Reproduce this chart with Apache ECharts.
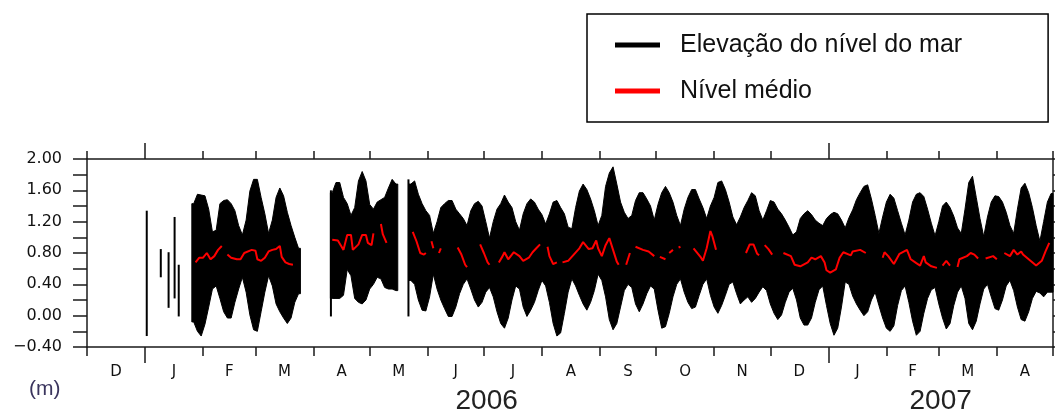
<!DOCTYPE html>
<html><head><meta charset="utf-8">
<script src="https://cdn.jsdelivr.net/npm/echarts@6/dist/echarts.min.js"></script>
<style>html,body{margin:0;padding:0;background:#fff}#c{width:1055px;height:415px}</style>
</head><body><div id="c"></div>
<script>
// ---------------- data ----------------
const seaName = 'Elevação do nível do mar';
const meanName = 'Nível médio';

const monthStarts = ['2005-12-01','2006-01-01','2006-02-01','2006-03-01','2006-04-01','2006-05-01','2006-06-01','2006-07-01','2006-08-01','2006-09-01','2006-10-01','2006-11-01','2006-12-01','2007-01-01','2007-02-01','2007-03-01','2007-04-01','2007-05-01'];
const monthLetters = ['D','J','F','M','A','M','J','J','A','S','O','N','D','J','F','M','A'];
const yearStarts = ['2006-01-01','2007-01-01'];
const yearLabels = ['2006','2007'];

// tidal range envelope (high / low of the sea level), one value per 2 days
const seaStepDays = 2;
const seaStartA = '2006-01-26';
const seaHighA = [1.43,1.55,1.54,1.53,1.36,1.07,1.09,1.43,1.47,1.48,1.43,1.34,1.15,1.03,1.22,1.59,1.74,1.74,1.51,1.30,1.05,1.22,1.51,1.63,1.53,1.32,1.15,1.00,0.86];
const seaLowA  = [-0.08,-0.20,-0.26,-0.11,0.11,0.34,0.38,0.22,0.05,-0.03,-0.03,0.17,0.34,0.49,0.30,0.01,-0.18,-0.20,0.05,0.30,0.51,0.38,0.15,0.05,-0.03,-0.10,-0.03,0.17,0.28];
const seaStartB = '2006-04-10';
const seaHighB = [1.57,1.70,1.70,1.51,1.43,1.28,1.38,1.72,1.84,1.72,1.42,1.36,1.45,1.48,1.51,1.63,1.74,1.68];
const seaLowB  = [0.22,0.22,0.22,0.26,0.59,0.51,0.22,0.17,0.15,0.20,0.34,0.40,0.49,0.47,0.36,0.34,0.34,0.32];
const seaStartC = '2006-05-22';
const seaHighC = [
 1.68,1.72,1.55,1.43,1.34,1.28,1.05,1.20,1.38,1.43,
 1.47,1.47,1.36,1.30,1.24,1.15,1.34,1.43,1.46,1.40,
 1.20,0.99,1.20,1.36,1.43,1.54,1.45,1.38,1.20,1.09,
 1.30,1.43,1.49,1.45,1.36,1.29,1.17,1.30,1.45,1.47,
 1.38,1.30,1.13,1.11,1.38,1.59,1.68,1.61,1.49,1.34,
 1.15,1.28,1.65,1.82,1.90,1.68,1.45,1.32,1.24,1.28,
 1.47,1.57,1.57,1.49,1.40,1.22,1.42,1.57,1.65,1.57,
 1.45,1.28,1.15,1.36,1.51,1.61,1.61,1.49,1.38,1.24,
 1.40,1.51,1.70,1.72,1.61,1.45,1.26,1.16,1.26,1.38,
 1.47,1.57,1.53,1.34,1.22,1.34,1.47,1.45,1.36,1.30,
 1.22,1.13,1.03,1.07,1.24,1.30,1.34,1.29,1.22,1.18,
 1.15,1.24,1.29,1.32,1.30,1.22,1.12,1.25,1.35,1.48,
 1.57,1.65,1.67,1.49,1.28,1.05,1.26,1.45,1.55,1.50,
 1.34,1.18,1.03,1.22,1.45,1.55,1.57,1.52,1.36,1.18,
 1.02,1.20,1.40,1.45,1.38,1.27,1.12,1.05,1.36,1.70,
 1.78,1.51,1.24,1.01,1.26,1.45,1.53,1.52,1.45,1.32,
 1.15,1.05,1.36,1.63,1.69,1.57,1.38,1.15,0.95,1.20,
 1.45,1.56];
const seaLowC = [
 0.45,0.40,0.20,0.07,0.06,0.24,0.53,0.34,0.20,0.09,
 -0.01,-0.01,0.11,0.28,0.40,0.47,0.34,0.20,0.11,0.17,
 0.30,0.36,0.24,0.05,-0.10,-0.16,-0.03,0.20,0.38,0.34,
 0.11,-0.01,0.07,0.17,0.32,0.45,0.38,0.17,-0.10,-0.26,
 -0.22,0.03,0.30,0.47,0.38,0.26,0.15,0.07,0.17,0.32,
 0.53,0.45,0.24,-0.05,-0.18,-0.10,0.11,0.32,0.40,0.36,
 0.15,0.05,0.15,0.28,0.38,0.34,0.07,-0.16,-0.14,0.03,
 0.24,0.40,0.47,0.30,0.17,0.09,0.11,0.26,0.40,0.47,
 0.26,0.11,0.03,0.13,0.26,0.40,0.43,0.28,0.15,0.20,
 0.24,0.17,0.22,0.30,0.37,0.32,0.15,0.03,-0.05,0.01,
 0.17,0.30,0.35,0.20,-0.03,-0.12,-0.12,-0.03,0.17,0.33,
 0.38,0.13,-0.10,-0.25,-0.16,0.11,0.43,0.40,0.25,0.15,
 0.07,0.00,0.05,0.20,0.30,0.13,-0.03,-0.16,-0.20,-0.13,
 0.13,0.32,0.38,0.17,-0.07,-0.25,-0.20,0.03,0.22,0.33,
 0.36,0.15,-0.03,-0.17,-0.10,0.13,0.30,0.38,0.22,-0.10,
 -0.18,-0.07,0.15,0.34,0.40,0.24,0.09,0.07,0.20,0.38,
 0.45,0.32,0.11,-0.05,-0.07,0.05,0.22,0.31,0.29,0.24,
 0.30,0.30];

// short isolated records: [time, low, high]
const seaFragments = [
 ['2006-01-01 22:00', -0.26, 1.34],
 ['2006-01-09 10:00', 0.49, 0.85],
 ['2006-01-13 14:00', 0.10, 0.81],
 ['2006-01-16 19:00', 0.22, 1.26],
 ['2006-01-19 00:00', -0.01, 0.65],
 ['2006-04-10 07:00', -0.01, 1.60],
 ['2006-05-21 17:00', -0.01, 1.74]
];

// mean level (null = gap)
const meanLevel = [
 ['2006-01-28',0.68],['2006-01-30',0.74],['2006-02-01',0.74],['2006-02-03',0.80],['2006-02-05',0.72],['2006-02-06',0.72],['2006-02-07',0.76],['2006-02-09',0.84],['2006-02-11',0.89],['2006-02-12',null],
 ['2006-02-14',0.78],['2006-02-16',0.74],['2006-02-19',0.72],['2006-02-21',0.72],['2006-02-23',0.80],['2006-02-27',0.84],['2006-03-01',0.83],['2006-03-02',0.72],['2006-03-04',0.70],['2006-03-06',0.74],['2006-03-08',0.82],['2006-03-10',0.84],['2006-03-12',0.85],['2006-03-14',0.89],['2006-03-15',0.75],['2006-03-17',0.68],['2006-03-19',0.66],['2006-03-21',0.65],['2006-03-22',null],
 ['2006-04-11',0.97],['2006-04-14',0.96],['2006-04-16',0.88],['2006-04-17',0.84],['2006-04-19',1.03],['2006-04-21',1.03],['2006-04-22',0.84],['2006-04-23',0.82],['2006-04-25',0.91],['2006-04-27',1.03],['2006-04-29',1.03],['2006-04-30',0.93],['2006-05-02',0.90],['2006-05-03',1.05],['2006-05-04',null],
 ['2006-05-07',1.17],['2006-05-08',1.04],['2006-05-10',0.93],['2006-05-11',null],
 ['2006-05-24',1.07],['2006-05-26',0.95],['2006-05-28',0.80],['2006-05-30',0.78],['2006-05-31',0.80],['2006-06-01',null],
 ['2006-06-03',0.95],['2006-06-04',0.86],['2006-06-05',null],
 ['2006-06-07',0.80],['2006-06-08',0.86],['2006-06-09',null],
 ['2006-06-17',0.87],['2006-06-19',0.78],['2006-06-21',0.65],['2006-06-22',0.62],['2006-06-23',null],
 ['2006-06-29',0.91],['2006-07-01',0.80],['2006-07-03',0.68],['2006-07-04',0.65],['2006-07-05',null],
 ['2006-07-09',0.68],['2006-07-11',0.76],['2006-07-12',0.81],['2006-07-14',0.72],['2006-07-17',0.81],['2006-07-20',0.76],['2006-07-22',0.70],['2006-07-25',0.74],['2006-07-27',0.81],['2006-07-29',0.86],['2006-07-31',0.91],['2006-08-01',null],
 ['2006-08-04',0.88],['2006-08-05',0.76],['2006-08-07',0.66],['2006-08-09',0.68],['2006-08-10',null],
 ['2006-08-12',0.68],['2006-08-15',0.70],['2006-08-18',0.78],['2006-08-21',0.86],['2006-08-23',0.94],['2006-08-24',0.96],['2006-08-26',0.85],['2006-08-28',0.86],['2006-08-30',0.96],['2006-08-31',0.86],['2006-09-02',0.76],['2006-09-04',0.90],['2006-09-06',0.99],['2006-09-08',0.84],['2006-09-10',0.69],['2006-09-11',0.65],['2006-09-12',null],
 ['2006-09-15',0.65],['2006-09-17',0.80],['2006-09-18',null],
 ['2006-09-20',0.88],['2006-09-24',0.84],['2006-09-27',0.82],['2006-09-30',0.76],['2006-10-01',null],
 ['2006-10-03',0.75],['2006-10-06',0.72],['2006-10-07',null],
 ['2006-10-08',0.80],['2006-10-10',0.84],['2006-10-11',null],
 ['2006-10-13',0.87],['2006-10-14',0.88],['2006-10-15',null],
 ['2006-10-21',0.86],['2006-10-25',0.74],['2006-10-26',0.70],['2006-10-28',0.86],['2006-10-30',1.08],['2006-10-31',1.02],['2006-11-02',0.84],['2006-11-03',null],
 ['2006-11-18',0.80],['2006-11-20',0.91],['2006-11-22',0.91],['2006-11-24',0.79],['2006-11-25',0.77],['2006-11-26',null],
 ['2006-11-28',0.90],['2006-11-30',0.85],['2006-12-02',0.78],['2006-12-03',null],
 ['2006-12-08',0.80],['2006-12-12',0.76],['2006-12-14',0.65],['2006-12-17',0.63],['2006-12-21',0.68],['2006-12-23',0.74],['2006-12-25',0.72],['2006-12-28',0.76],['2006-12-30',0.68],['2006-12-31',0.58],['2007-01-02',0.55],['2007-01-05',0.59],['2007-01-07',0.74],['2007-01-09',0.81],['2007-01-13',0.77],['2007-01-14',0.82],['2007-01-18',0.84],['2007-01-21',0.80],['2007-01-22',null],
 ['2007-01-30',0.74],['2007-01-31',0.81],['2007-02-02',0.76],['2007-02-05',0.66],['2007-02-08',0.79],['2007-02-12',0.84],['2007-02-14',0.72],['2007-02-17',0.67],['2007-02-19',0.64],['2007-02-21',0.76],['2007-02-22',0.68],['2007-02-25',0.63],['2007-02-28',0.61],['2007-03-01',null],
 ['2007-03-03',0.64],['2007-03-05',0.70],['2007-03-07',0.64],['2007-03-08',null],
 ['2007-03-11',0.62],['2007-03-12',0.72],['2007-03-16',0.76],['2007-03-18',0.80],['2007-03-20',0.78],['2007-03-22',0.73],['2007-03-23',null],
 ['2007-03-26',0.73],['2007-03-30',0.76],['2007-04-01',0.72],['2007-04-02',null],
 ['2007-04-05',0.80],['2007-04-06',0.81],['2007-04-08',0.76],['2007-04-10',0.84],['2007-04-12',0.78],['2007-04-14',0.82],['2007-04-15',0.78],['2007-04-18',0.72],['2007-04-22',0.64],['2007-04-23',0.65],['2007-04-25',0.70],['2007-04-27',0.82],['2007-04-29',0.93]
];

// ---------------- build ----------------
const DAY = 86400000;
function ts(s) { const p = s.split(/[-: ]/).map(Number); return new Date(p[0], p[1]-1, p[2], p[3]||0, p[4]||0).getTime(); }
function addDays(s, n) { const p = s.split('-').map(Number); return new Date(p[0], p[1]-1, p[2]+n).getTime(); }

const xMin = ts(monthStarts[0]);
const xMax = ts(monthStarts[monthStarts.length-1]);
const monthTs = monthStarts.map(ts);
const monthMidTs = monthLetters.map((_, i) => (monthTs[i] + monthTs[i+1]) / 2);
const yearTs = yearStarts.map(ts);
const yearMidTs = yearTs.map((t, i) => (t + Math.min(i+1 < yearTs.length ? yearTs[i+1] : xMax, xMax)) / 2);

// each continuous record becomes one filled envelope shape
const seaBlocks = [[seaStartA, seaHighA, seaLowA],[seaStartB, seaHighB, seaLowB],[seaStartC, seaHighC, seaLowC]];
const blockData = seaBlocks.map(([s, hi], b) => [addDays(s, 0), addDays(s, hi.length*seaStepDays), b]);
const fragData = seaFragments.map(([d, lo, hi]) => [ts(d), lo, hi]);
const meanData = meanLevel.map(([d, v]) => [ts(d), v == null ? '-' : v]);

function renderBlock(params, api) {
  const [s, hi, lo] = seaBlocks[api.value(2)];
  const n = hi.length;
  const x0 = addDays(s, 0), x1 = addDays(s, n*seaStepDays);
  const top = [api.coord([x0, hi[0]])], bot = [api.coord([x0, lo[0]])];
  hi.forEach((h, k) => {
    const xc = addDays(s, k*seaStepDays + seaStepDays/2);
    top.push(api.coord([xc, h]));
    bot.push(api.coord([xc, lo[k]]));
  });
  top.push(api.coord([x1, hi[n-1]]));
  bot.push(api.coord([x1, lo[n-1]]));
  return { type: 'polygon', shape: { points: top.concat(bot.reverse()) }, style: { fill: '#000', stroke: '#000', lineWidth: 1 } };
}
function renderFrag(params, api) {
  const t = api.value(0);
  const a = api.coord([t, api.value(2)]);
  const b = api.coord([t, api.value(1)]);
  return { type: 'line', shape: { x1: a[0], y1: a[1], x2: b[0], y2: b[1] }, style: { stroke: '#000', lineWidth: 2 } };
}

const lineCol = '#1a1a1a';
const axLine = { show: true, onZero: false, lineStyle: { color: lineCol, width: 1.5 } };
const tickStyle = { color: lineCol, width: 1.5 };
function nearestIdx(arr, v) { let b = -1, d = Infinity; arr.forEach((a, i) => { const e = Math.abs(a - v); if (e < d) { d = e; b = i; } }); return d < DAY ? b : -1; }
const monthFmt = v => { const i = nearestIdx(monthMidTs, v); return i >= 0 ? monthLetters[i] : ''; };
const yearFmt = v => { const i = nearestIdx(yearMidTs, v); return i >= 0 ? yearLabels[i] : ''; };

const chart = echarts.init(document.getElementById('c'), null, { renderer: 'canvas' });
chart.setOption({
  animation: false,
  backgroundColor: '#fff',
  title: { text: '(m)', left: 24, top: 374, textStyle: { fontFamily: 'Liberation Sans', fontSize: 21, fontWeight: 'normal', color: '#3b355e' } },
  legend: {
    orient: 'vertical', left: 587, top: 14,
    icon: 'rect', itemWidth: 45, itemHeight: 5, itemGap: 16,
    padding: [16, 86, 16, 28],
    borderColor: '#000', borderWidth: 1.5,
    selectedMode: false,
    textStyle: { fontFamily: 'Liberation Sans', fontSize: 25, color: '#111', lineHeight: 30, padding: [0, 0, 0, 15] },
    data: [seaName, meanName]
  },
  grid: { left: 87, right: 2, top: 159, bottom: 64, containLabel: false },
  xAxis: [
    { type: 'value', position: 'bottom', min: xMin, max: xMax, axisLine: axLine,
      axisTick: { show: true, customValues: monthTs, length: 9, lineStyle: tickStyle },
      axisLabel: { show: true, customValues: monthMidTs, formatter: monthFmt, margin: 18, fontFamily: 'DejaVu Sans', fontSize: 15, color: '#111' },
      splitLine: { show: false } },
    { type: 'value', position: 'bottom', min: xMin, max: xMax, axisLine: { show: false, onZero: false },
      axisTick: { show: true, customValues: yearTs, length: 16, lineStyle: tickStyle },
      axisLabel: { show: true, customValues: yearMidTs, formatter: yearFmt, margin: 40, fontFamily: 'Liberation Sans', fontSize: 28, color: '#222' },
      splitLine: { show: false } },
    { type: 'value', position: 'top', min: xMin, max: xMax, axisLine: axLine,
      axisTick: { show: true, customValues: monthTs, length: 8, lineStyle: tickStyle },
      axisLabel: { show: false }, splitLine: { show: false } },
    { type: 'value', position: 'top', min: xMin, max: xMax, axisLine: { show: false, onZero: false },
      axisTick: { show: true, customValues: yearTs, length: 16, lineStyle: tickStyle },
      axisLabel: { show: false }, splitLine: { show: false } }
  ],
  yAxis: [
    { type: 'value', position: 'left', min: -0.4, max: 2.0, interval: 0.2, axisLine: axLine,
      axisTick: { show: true, length: 14, lineStyle: tickStyle },
      axisLabel: { margin: 25, fontFamily: 'DejaVu Sans', fontSize: 16, color: '#111',
        formatter: v => (Math.round(v*10) % 4 === 0) ? v.toFixed(2).replace('-', '\u2212') : '' },
      splitLine: { show: false } },
    { type: 'value', position: 'right', min: -0.4, max: 2.0, interval: 0.2, axisLine: axLine,
      axisTick: { show: true, length: 14, lineStyle: tickStyle },
      axisLabel: { show: false }, splitLine: { show: false } }
  ],
  series: [
    { type: 'custom', name: seaName, renderItem: renderBlock, data: blockData, itemStyle: { color: '#000' }, encode: { x: [0, 1] }, z: 2 },
    { type: 'custom', name: seaName, renderItem: renderFrag, data: fragData, itemStyle: { color: '#000' }, encode: { x: 0, y: [1, 2] }, z: 2 },
    { type: 'line', name: meanName, data: meanData, showSymbol: false, symbol: 'none', connectNulls: false,
      lineStyle: { color: '#ff0000', width: 2 }, itemStyle: { color: '#ff0000' }, z: 5 }
  ]
});
</script></body></html>
